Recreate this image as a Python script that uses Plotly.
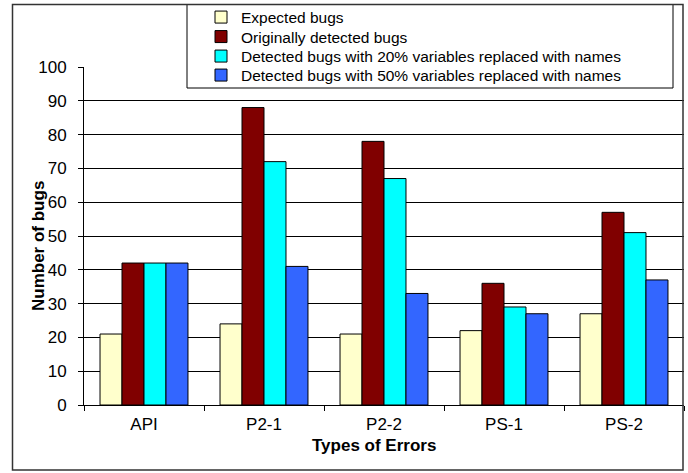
import plotly.graph_objects as go

categories = ["API", "P2-1", "P2-2", "PS-1", "PS-2"]
expected = [21, 24, 21, 22, 27]
original = [42, 88, 78, 36, 57]
detected20 = [42, 72, 67, 29, 51]
detected50 = [42, 41, 33, 27, 37]
series_names = [
    "Expected bugs",
    "Originally detected bugs",
    "Detected bugs with 20% variables replaced with names",
    "Detected bugs with 50% variables replaced with names",
]
colors = ["#FFFFCC", "#800000", "#00FFFF", "#3366FF"]
y_ticks = list(range(0, 101, 10))

W, H = 688, 473
L, R, T, B = 84, 4, 67, 68
PW, PH = W - L - R, H - T - B


def px_x(px):
    return (px - L) / PW


def px_y(py):
    return (H - B - py) / PH


font = "Liberation Sans, Arial, sans-serif"
legend_rows = [17.5, 37, 56.5, 75.5]
legend_keys = ["legend", "legend2", "legend3", "legend4"]

fig = go.Figure()
for i, (name, vals, col) in enumerate(zip(series_names, [expected, original, detected20, detected50], colors)):
    fig.add_trace(go.Bar(
        x=categories, y=vals, name=name, legend=legend_keys[i],
        marker=dict(color=col, line=dict(color="black", width=1)),
    ))

legend_common = dict(
    xanchor="left", yanchor="middle", bgcolor="rgba(0,0,0,0)", borderwidth=0,
    font=dict(family=font, size=15.5, color="black"), itemclick=False, itemdoubleclick=False,
)
layout_legends = {}
for key, row in zip(legend_keys, legend_rows):
    layout_legends[key] = dict(x=px_x(201), y=px_y(row), **legend_common)

fig.update_layout(
    width=W, height=H,
    margin=dict(l=L, r=R, t=T, b=B, autoexpand=False),
    paper_bgcolor="white", plot_bgcolor="white",
    barmode="group", bargap=0.267, bargroupgap=0,
    font=dict(family=font, size=17, color="black"),
    showlegend=True,
    xaxis=dict(
        type="category", showgrid=False, showline=True, linecolor="black", linewidth=1,
        ticks="outside", tickson="boundaries", ticklen=5, tickcolor="black",
        tickfont=dict(size=17), ticklabelstandoff=4, automargin=False,
        range=[-0.5, 4.5],
    ),
    yaxis=dict(
        range=[0, 100], tickvals=y_ticks, showgrid=True, gridcolor="black", gridwidth=1,
        showline=True, linecolor="black", linewidth=1, zeroline=False,
        ticks="outside", ticklen=5, tickcolor="black", tickfont=dict(size=17),
        ticklabelstandoff=8, automargin=False,
    ),
    annotations=[
        dict(text="<b>Types of Errors</b>", xref="paper", yref="paper",
             x=px_x(374), y=px_y(445), xanchor="center", yanchor="middle",
             showarrow=False, font=dict(size=17)),
        dict(text="<b>Number of bugs</b>", xref="paper", yref="paper",
             x=px_x(39), y=px_y(246), xanchor="center", yanchor="middle",
             textangle=-90, showarrow=False, font=dict(size=17)),
    ],
    shapes=[
        dict(type="rect", xref="paper", yref="paper",
             x0=px_x(187), x1=px_x(673), y0=px_y(88), y1=px_y(4.5),
             line=dict(color="black", width=1), fillcolor="white", layer="below"),
        dict(type="rect", xref="paper", yref="paper",
             x0=px_x(12.5), x1=px_x(683), y0=px_y(470), y1=px_y(4.5),
             line=dict(color="#333333", width=1.5), fillcolor="rgba(0,0,0,0)", layer="above"),
    ],
    **layout_legends,
)
fig.write_html(
    "out.html",
    config={"displayModeBar": False},
    post_script="document.body.style.margin='0px';document.body.style.padding='0px';",
)
